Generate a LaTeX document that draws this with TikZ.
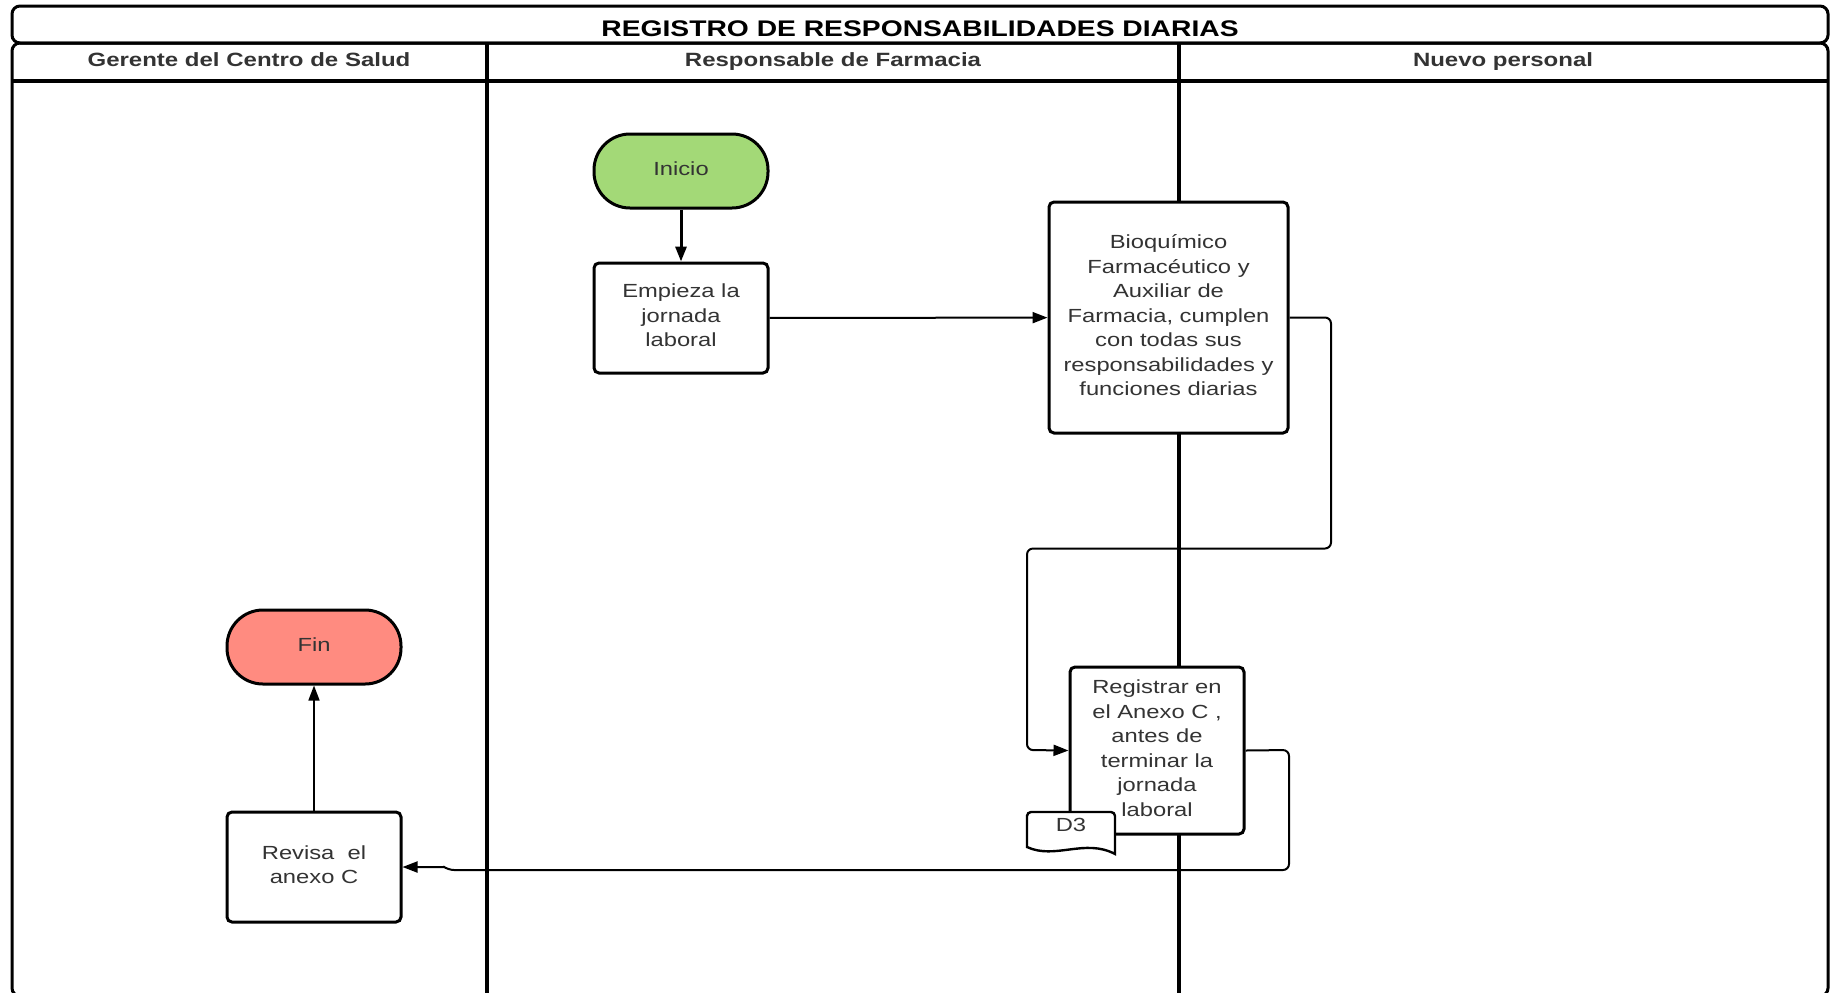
\documentclass[tikz,border=0pt]{standalone}
\usepackage{fontspec}
\setmainfont{Liberation Sans}[FakeStretch=1.25]
\usetikzlibrary{arrows.meta}
\definecolor{inkgray}{HTML}{333333}
\definecolor{startgreen}{HTML}{A3D977}
\definecolor{endred}{HTML}{FF8B80}

\begin{document}
\begin{tikzpicture}[x=0.5pt,y=-0.5pt,
  btext/.style={align=center, text=inkgray, inner sep=0pt, yshift=1.2pt,
    font=\fontsize{9.5}{12.25}\selectfont},
  box/.style={draw=black, line width=1.5pt, rounded corners=2.5pt, fill=white, inner sep=0pt},
  term/.style={box, rounded corners=18pt, minimum width=87pt, minimum height=37pt},
  frame/.style={line width=1.5pt, rounded corners=4pt},
  lane/.style={line width=2pt},
  lanehead/.style={font=\bfseries\fontsize{9.6}{11}\selectfont, text=inkgray,
    text height=1.5ex, text depth=0.25ex},
  flow/.style={line width=1pt, rounded corners=3pt, -{Triangle[length=7.5pt,width=5.5pt]}},
  doc/.style={draw=black, line width=1.2pt, fill=white}
]
\useasboundingbox (0,0) rectangle (1834,992);

% pool frame, title band and lane headers
\draw[frame] (12,6) rectangle (1828,43);
\draw[frame] (12,43) rectangle (1828,996);
\draw[line width=2pt] (12,81) -- (1828,81);
\draw[lane] (486.5,43) -- (486.5,996);
\draw[lane] (1179,43) -- (1179,996);

\node[font=\bfseries\fontsize{11.3}{13}\selectfont, text=black] (title) at (920,28.5)
  {REGISTRO DE RESPONSABILIDADES DIARIAS};
\node[lanehead] (h1) at (249,60) {Gerente del Centro de Salud};
\node[lanehead] (h2) at (833,60) {Responsable de Farmacia};
\node[lanehead] (h3) at (1503,60) {Nuevo personal};

% process steps
\node[term, fill=startgreen, label={[btext]center:Inicio}] (ini) at (681,171) {};
\node[box, minimum width=87pt, minimum height=55pt,
  label={[btext]center:{Empieza la\\jornada\\laboral}}] (emp) at (681,318) {};
\node[box, minimum width=119.5pt, minimum height=115.5pt,
  label={[btext]center:{Bioquímico\\Farmacéutico y\\Auxiliar de\\Farmacia, cumplen\\con todas sus\\responsabilidades y\\funciones diarias}}]
  (bio) at (1168.5,317.5) {};
\node[box, minimum width=87pt, minimum height=83.5pt,
  label={[btext]center:{Registrar en\\el Anexo C ,\\antes de\\terminar la\\jornada\\laboral}}]
  (reg) at (1157,750.5) {};
\node[term, fill=endred, label={[btext]center:Fin}] (fin) at (314,647) {};
\node[box, minimum width=87pt, minimum height=55pt,
  label={[btext]center:{Revisa\ \ el\\anexo C}}] (rev) at (314,867) {};

% document symbol attached to the register step
\draw[doc] (1027,847) -- (1027,815) [rounded corners=2pt] -- (1027,812) -- (1115,812) [sharp corners] -- (1115,854)
  .. controls (1085,838) and (1055,860) .. (1027,847) -- cycle;
\node[btext] (d3) at (1071,827) {D3};

% connectors
\draw[flow, line width=1.5pt] (ini) -- (emp);
\draw[flow] (emp) -- (bio);
\draw[flow] (bio.east) -- (1331,317.5) -- (1331,548.5) -- (1027,548.5) -- (1027,750) -- (reg.west);
\draw[flow] (reg.east) -- (1289,750) -- (1289,870) -- (448,870) [sharp corners] -- (444,867) -- (rev.east);
\draw[flow, line width=0.8pt] (rev) -- (fin);
\end{tikzpicture}
\end{document}
